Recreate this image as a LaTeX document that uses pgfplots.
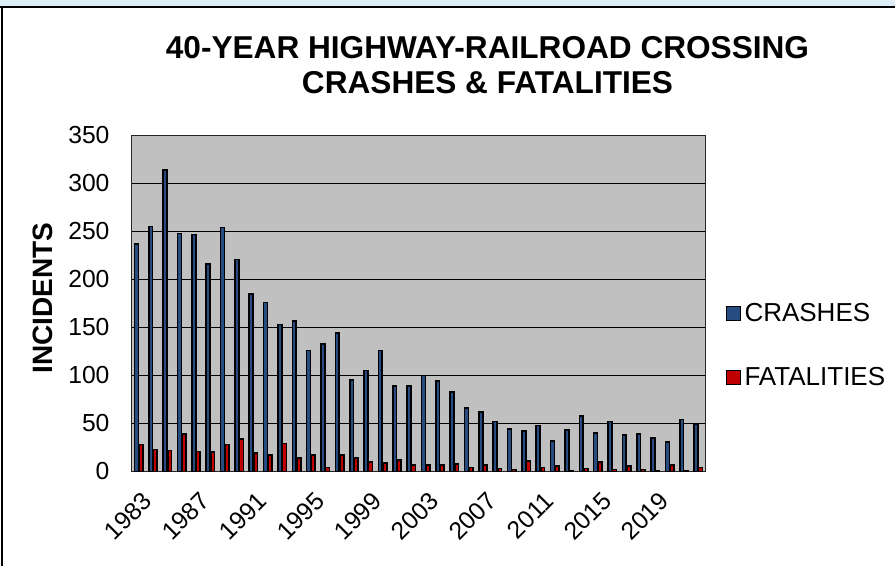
\documentclass[border=0pt]{standalone}
\usepackage{pgfplots}
\pgfplotsset{compat=1.18}
\usepackage{pgfplotstable}
\usepackage{fontspec}
\setmainfont{Liberation Sans}
\definecolor{crashblue}{RGB}{38,76,130}
\definecolor{fatred}{RGB}{192,0,0}
\definecolor{plotgray}{RGB}{192,192,192}
\definecolor{topblue}{RGB}{221,238,248}
\pgfplotstableread{
x crashes fatalities
0 237 28
1 255 23
2 314 22
3 248 39
4 247 21
5 216 20
6 254 28
7 221 34
8 185 19
9 176 17
10 153 29
11 157 14
12 126 17
13 133 4
14 144 17
15 95 14
16 105 10
17 126 9
18 89 12
19 89 7
20 100 7
21 94 7
22 83 8
23 66 4
24 62 7
25 52 3
26 44 2
27 42 11
28 48 4
29 32 6
30 43 1
31 58 3
32 40 10
33 52 2
34 38 6
35 39 2
36 35 1
37 31 7
38 54 1
39 49 4
}\datatable
\begin{document}
\begin{tikzpicture}
\useasboundingbox (0pt,0pt) rectangle (671.25pt,424.5pt);
% background frame
\fill[white] (0pt,0pt) rectangle (671.25pt,424.5pt);
\fill[topblue] (0pt,419.25pt) rectangle (671.25pt,424.5pt);
\draw[black,line width=1.5pt] (0pt,418.875pt) -- (671.25pt,418.875pt);
\draw[black,line width=1.5pt] (1.5pt,0pt) -- (1.5pt,418.875pt);
% title
\node[align=center,font=\fontsize{23.7}{26.5}\selectfont\bfseries] at (365.625pt,375.75pt) {40-YEAR HIGHWAY-RAILROAD CROSSING\\CRASHES \& FATALITIES};
% y label
\node[rotate=90,font=\fontsize{21}{21}\selectfont\bfseries] at (32.5pt,201pt) {INCIDENTS};
\begin{axis}[
  at={(98.625pt,70.875pt)}, anchor=south west,
  scale only axis, width=430.5pt, height=252pt,
  xmin=-0.5, xmax=39.5, ymin=0, ymax=350,
  ytick={0,50,...,350},
  xtick={0,4,...,36},
  xticklabels={1983,1987,1991,1995,1999,2003,2007,2011,2015,2019},
  major tick length=0pt,
  /pgf/number format/assume math mode=true,
  yticklabel style={font=\fontsize{18.5}{18.5}\selectfont, xshift=-13pt},
  xticklabel style={font=\fontsize{18.5}{18.5}\selectfont, rotate=45, anchor=north east, xshift=-5pt, yshift=-8pt},
  axis background/.style={fill=plotgray},
  ymajorgrids, grid style={black, line width=1.4pt},
  axis line style={black!85, line width=1.1pt},
  ybar, bar width=2.9pt,
  legend style={at={(1.028,0.375)}, anchor=west, draw=none, fill=none,
    font=\fontsize{19.5}{19.5}\selectfont, row sep=33pt,
    nodes={inner xsep=2.5pt, inner ysep=0pt}},
  legend cell align=left,
  legend image code/.code={\draw[#1, line width=0.9pt, draw=black] (0pt,-5.3pt) rectangle (10.6pt,5.3pt);},
]
\addplot[fill=crashblue, draw=black, line width=1.2pt, bar shift=-1.7pt] table[x=x,y=crashes]{\datatable};
\addplot[fill=fatred, draw=black, line width=1.2pt, bar shift=1.7pt] table[x=x,y=fatalities]{\datatable};
\legend{CRASHES,FATALITIES}
\end{axis}
\end{tikzpicture}
\end{document}
